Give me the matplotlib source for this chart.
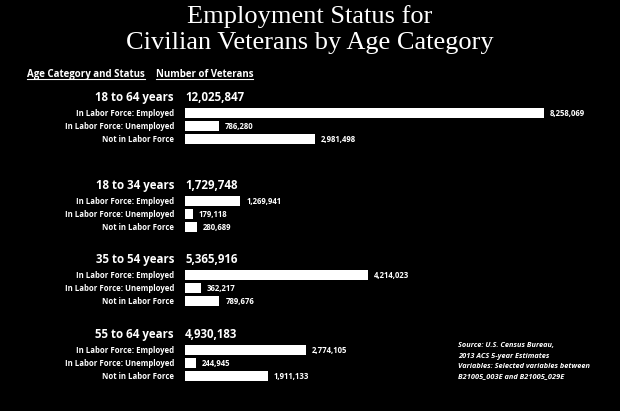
import matplotlib.pyplot as plt

groups = ["18 to 64 years", "18 to 34 years", "35 to 54 years", "55 to 64 years"]
totals = [12025847, 1729748, 5365916, 4930183]
statuses = ["In Labor Force: Employed", "In Labor Force: Unemployed", "Not in Labor Force"]
employed = [8258069, 1269941, 4214023, 2774105]
unemployed = [786280, 179118, 362217, 244945]
not_in_lf = [2981498, 280689, 789676, 1911133]

W, H = 620, 411
fig = plt.figure(figsize=(W / 100, H / 100), dpi=100, facecolor="black")

# axes in pixel-like coords for y, data scale for x
x0 = 185
ax = fig.add_axes([x0 / W, 0, 1 - x0 / W, 1])
ax.set_facecolor("black")
ax.set_xlim(0, max(employed) * (W - x0) / 359)
ax.set_ylim(H, 0)
ax.axis("off")

sans = ["Open Sans", "DejaVu Sans"]
head_y = [97, 185, 259, 334]
to_px = (W - x0) / ax.get_xlim()[1]

for g, name in enumerate(groups):
    y = head_y[g]
    ax.text(-11 / to_px, y, name, ha="right", va="center", color="white",
            fontsize=8.3, fontweight="bold", family=sans)
    ax.text(0, y, f"{totals[g]:,}", ha="left", va="center", color="white",
            fontsize=8.3, fontweight="bold", family=sans)
    vals = [employed[g], unemployed[g], not_in_lf[g]]
    for i, (lab, v) in enumerate(zip(statuses, vals)):
        yy = y + 16 + 13 * i
        ax.barh(yy, v, height=10, color="white", edgecolor="none")
        ax.text(-11 / to_px, yy, lab, ha="right", va="center", color="white",
                fontsize=5.6, fontweight="bold", family=sans)
        ax.text(v + 6 / to_px, yy, f"{v:,}", ha="left", va="center", color="white",
                fontsize=5.6, fontweight="bold", family=sans)

fig.text(0.5, 1 - 17 / H, "Employment Status for", ha="center", va="center",
         color="white", fontsize=19, family=["Liberation Serif"])
fig.text(0.5, 1 - 43 / H, "Civilian Veterans by Age Category", ha="center", va="center",
         color="white", fontsize=19, family=["Liberation Serif"])

# underlined column headers
hdrs = [(27, "Age Category and Status"), (156, "Number of Veterans")]
base = 77
fig.canvas.draw()
r = fig.canvas.get_renderer()
for xp, s in hdrs:
    t = fig.text(xp / W, 1 - base / H, s, ha="left", va="baseline", color="white",
                 fontsize=7.0, fontweight="bold", family=sans)
    bb = t.get_window_extent(renderer=r)
    uy = 1 - (base + 2) / H
    fig.add_artist(plt.Line2D([bb.x0 / W, bb.x1 / W], [uy, uy],
                              color="white", lw=0.8, transform=fig.transFigure))

src = ("Source: U.S. Census Bureau,\n2013 ACS 5-year Estimates\n"
       "Variables: Selected variables between\nB21005_003E and B21005_029E")
fig.text(458 / W, 1 - 342 / H, src, ha="left", va="top", color="white",
         fontsize=5.3, fontweight="bold", style="italic", family=sans, linespacing=1.7)

fig.savefig("out.png", dpi=100, facecolor="black")
